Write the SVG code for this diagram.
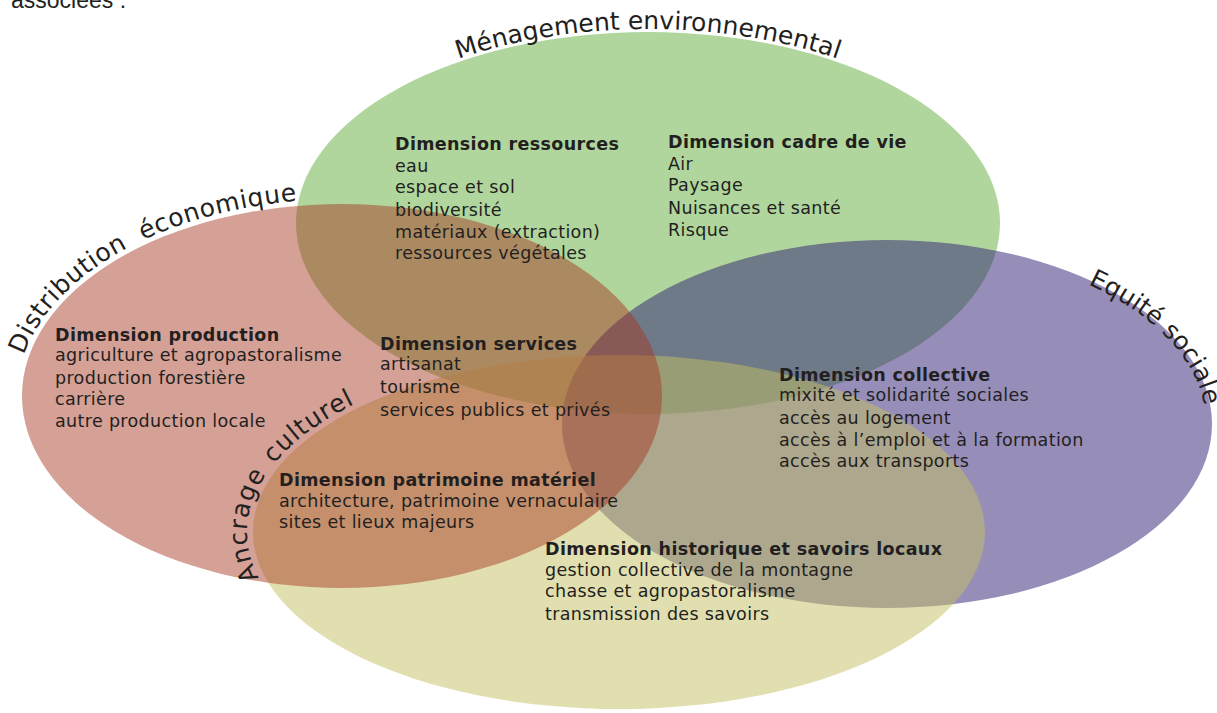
<svg xmlns="http://www.w3.org/2000/svg" width="1217" height="713" viewBox="0 0 1217 713">
<style>
.t{font-family:"DejaVu Sans","Verdana",sans-serif;font-size:17.5px;letter-spacing:0.35px;fill:#231f20}
.b{font-weight:bold}
.arc{font-family:"DejaVu Sans","Verdana",sans-serif;font-size:25px;fill:#231f20}
</style>
<defs>
<path id="pG" d="M 292 223 A 356 194 0 0 1 1004 223"/>
<path id="pR" d="M 24 355 A 325 197 0 0 1 342 199"/>
<path id="pP" d="M 1088 284.2 A 319 180 0 0 1 1206 424"/>
<path id="pY" d="M 259 578 A 372 182 0 0 1 619 350"/>
</defs>
<rect x="0" y="0" width="1217" height="713" fill="#ffffff"/>
<text x="11" y="8" font-family="Liberation Sans, Arial, sans-serif" font-size="23" fill="#231f20">associées :</text>
<g id="ellipses">
<ellipse id="green" cx="648" cy="223" rx="352" ry="191" fill="#b0d69d"/>
<ellipse id="purple" cx="887" cy="424" rx="325" ry="184" fill="rgb(45,29,115)" fill-opacity="0.5"/>
<ellipse id="yellow" cx="619" cy="532" rx="366" ry="177" fill="rgb(195,191,97)" fill-opacity="0.5"/>
<ellipse id="red" cx="342" cy="396" rx="320" ry="192" fill="rgb(166,53,32)" fill-opacity="0.47"/>
</g>
<g id="titles">
<text class="arc"><textPath href="#pG" startOffset="50%" text-anchor="middle">Ménagement environnemental</textPath></text>
<text class="arc" word-spacing="8" letter-spacing="0.6"><textPath href="#pR">Distribution économique</textPath></text>
<text class="arc"><textPath href="#pP">Equité sociale</textPath></text>
<text class="arc" letter-spacing="1" word-spacing="3"><textPath href="#pY">Ancrage culturel</textPath></text>
</g>
<g id="ressources">
<text class="t b" x="395" y="150">Dimension ressources</text>
<text class="t" x="395" y="172">eau</text>
<text class="t" x="395" y="193">espace et sol</text>
<text class="t" x="395" y="216">biodiversité</text>
<text class="t" x="395" y="238">matériaux (extraction)</text>
<text class="t" x="395" y="259">ressources végétales</text>
</g>
<g id="cadre-de-vie">
<text class="t b" x="668" y="148">Dimension cadre de vie</text>
<text class="t" x="668" y="170">Air</text>
<text class="t" x="668" y="191">Paysage</text>
<text class="t" x="668" y="214">Nuisances et santé</text>
<text class="t" x="668" y="236">Risque</text>
</g>
<g id="production">
<text class="t b" x="55" y="341">Dimension production</text>
<text class="t" x="55" y="361">agriculture et agropastoralisme</text>
<text class="t" x="55" y="384">production forestière</text>
<text class="t" x="55" y="405">carrière</text>
<text class="t" x="55" y="427">autre production locale</text>
</g>
<g id="services">
<text class="t b" x="380" y="350">Dimension services</text>
<text class="t" x="380" y="370">artisanat</text>
<text class="t" x="380" y="393">tourisme</text>
<text class="t" x="380" y="416">services publics et privés</text>
</g>
<g id="collective">
<text class="t b" x="779" y="381">Dimension collective</text>
<text class="t" x="779" y="401">mixité et solidarité sociales</text>
<text class="t" x="779" y="424">accès au logement</text>
<text class="t" x="779" y="446">accès à l’emploi et à la formation</text>
<text class="t" x="779" y="467">accès aux transports</text>
</g>
<g id="patrimoine">
<text class="t b" x="279" y="486">Dimension patrimoine matériel</text>
<text class="t" x="279" y="507">architecture, patrimoine vernaculaire</text>
<text class="t" x="279" y="528">sites et lieux majeurs</text>
</g>
<g id="historique">
<text class="t b" x="545" y="555">Dimension historique et savoirs locaux</text>
<text class="t" x="545" y="576">gestion collective de la montagne</text>
<text class="t" x="545" y="597">chasse et agropastoralisme</text>
<text class="t" x="545" y="620">transmission des savoirs</text>
</g>
</svg>
